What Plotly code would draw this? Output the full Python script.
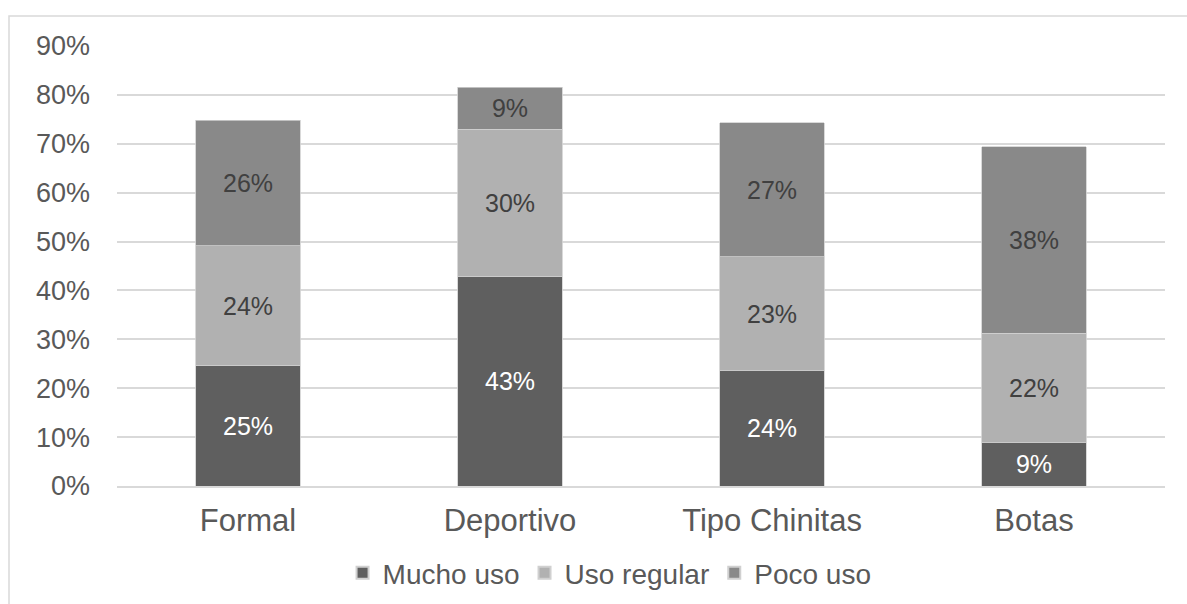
import plotly.graph_objects as go

categories = ["Formal", "Deportivo", "Tipo Chinitas", "Botas"]
mucho_uso = [24.7, 42.9, 23.6, 8.8]
uso_regular = [24.4, 30.1, 23.3, 22.4]
poco_uso = [25.7, 8.6, 27.4, 38.2]
series_names = ["Mucho uso", "Uso regular", "Poco uso"]
y_ticks = list(range(0, 100, 10))

FONT = "Liberation Sans, Arial, sans-serif"
colors = ["#5f5f5f", "#b1b1b1", "#898989"]
text_colors = ["#ffffff", "#404040", "#404040"]

fig = go.Figure()
for name, vals, c, tc in zip(series_names, [mucho_uso, uso_regular, poco_uso], colors, text_colors):
    fig.add_trace(go.Bar(
        name=name, x=categories, y=vals,
        text=[f"{round(v)}%" for v in vals],
        textposition="inside", insidetextanchor="middle",
        textfont=dict(family=FONT, size=25, color=tc),
        constraintext="none",
        marker=dict(color=c, line=dict(color="#d0d0d0", width=0.8)),
        hoverinfo="skip",
    ))

fig.update_layout(
    barmode="stack", bargap=0.6,
    width=1187, height=604,
    margin=dict(l=117, r=22, t=46, b=118, autoexpand=False),
    paper_bgcolor="white", plot_bgcolor="white",
    font=dict(family=FONT, color="#595959"),
    legend=dict(orientation="h", x=0.47, xanchor="center", y=-0.198, yanchor="middle",
                font=dict(family=FONT, size=28, color="#595959"),
                itemsizing="constant", traceorder="normal", itemwidth=30),
    showlegend=True,
)
fig.update_yaxes(range=[0, 90], tickvals=y_ticks, ticktext=[f"{t}%" for t in y_ticks],
                 showgrid=True, gridcolor="#d9d9d9", gridwidth=1.5,
                 zeroline=False, showline=False, ticks="", automargin=False,
                 tickfont=dict(family=FONT, size=27, color="#595959"),
                 ticklabelstandoff=26)
fig.update_xaxes(showgrid=False, showline=True, linecolor="#d9d9d9", linewidth=1.5, ticks="",
                 automargin=False,
                 tickfont=dict(family=FONT, size=31, color="#595959"),
                 ticklabelstandoff=6)

fig.add_shape(type="rect", xref="paper", yref="paper",
              x0=(9 - 117) / 1048, x1=1.2, y0=-0.5, y1=(486 - 16) / 440,
              line=dict(color="#d9d9d9", width=1.5), fillcolor="rgba(0,0,0,0)", layer="below")

fig.write_html("out.html")
